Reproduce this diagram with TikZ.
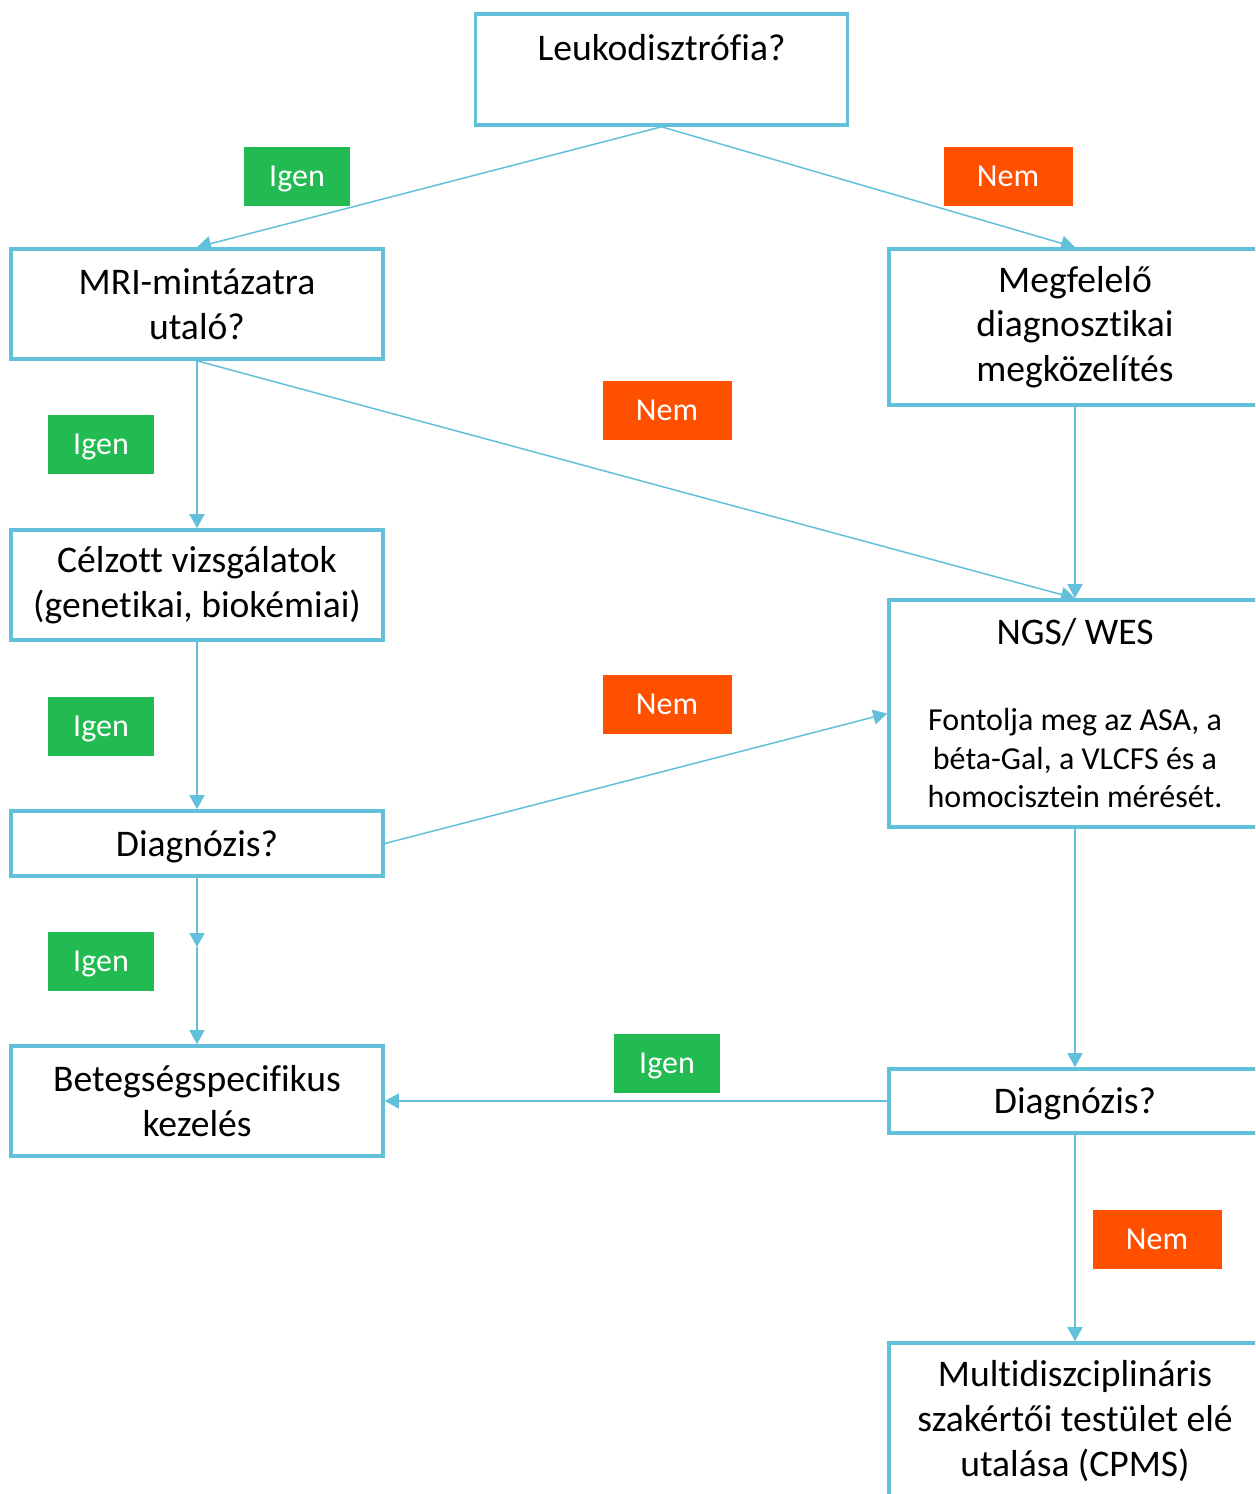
\documentclass[tikz,border=0pt]{standalone}
\usepackage{fontspec}
\setmainfont{Carlito}[Ligatures=NoCommon]
\usetikzlibrary{arrows.meta}
\definecolor{flowblue}{RGB}{98,192,218}
\definecolor{yesgreen}{RGB}{34,187,82}
\definecolor{nored}{RGB}{255,80,0}

\begin{document}
\begin{tikzpicture}[x=0.5pt,y=-0.5pt,->,>={Triangle[length=7pt,width=7.5pt]},
  every edge/.append style={draw=flowblue,line width=0.75pt},
  main node/.style={rectangle,draw=flowblue,line width=1.8pt,minimum width=186pt,
    align=center,inner sep=0pt,font=\fontsize{18.8}{22.3}\selectfont,
    execute at begin node={\rule{0pt}{16pt}},
    execute at end node={\rule[-0.2pt]{0pt}{0pt}}},
  yes node/.style={rectangle,fill=yesgreen,text=white,minimum width=53pt,
    minimum height=29.5pt,inner sep=0pt,font=\fontsize{16}{19}\selectfont,
    text height=13.3pt,text depth=3.2pt},
  no node/.style={yes node,fill=nored,minimum width=64.5pt}]

  \useasboundingbox (0,0) rectangle (1255,1494);
  \clip (0,0) rectangle (1255,1494);

  \node[main node,minimum height=55.5pt] (1) at (661.5,69.5) {Leukodisztrófia?\\\mbox{}};
  \node[main node,minimum height=55pt]   (2) at (197,304)    {MRI-mintázatra\\utaló?};
  \node[main node,minimum height=78pt]   (3) at (1075,327)   {Megfelelő\\diagnosztikai\\megközelítés};
  \node[main node,minimum height=55pt]   (4) at (197,585)    {Célzott vizsgálatok\\(genetikai, biokémiai)};
  \node[main node,minimum height=113.5pt,font=\fontsize{16}{19.3}\selectfont] (5) at (1075,713.5)
    {\fontsize{18.8}{22.3}\selectfont NGS/ WES\\[23.5pt]Fontolja meg az ASA, a\\béta-Gal, a VLCFS és a\\homocisztein mérését.};
  \node[main node,minimum height=32.5pt] (6) at (197,843.5)  {Diagnózis?};
  \node[main node,minimum height=55pt]   (7) at (197,1101)   {Betegségspecifikus\\kezelés};
  \node[main node,minimum height=32pt]   (8) at (1075,1101)  {Diagnózis?};
  \node[main node,minimum height=78pt]   (9) at (1075,1421)  {Multidiszciplináris\\szakértői testület elé\\utalása (CPMS)};

  \coordinate (m) at (197,947);

  % Igen / Nem
  \node[yes node] (y1) at (297,176)    {Igen};
  \node[no node]  (n1) at (1008,176.5) {Nem};
  \node[yes node] (y2) at (101,444.5)  {Igen};
  \node[no node]  (n2) at (667,410.5)  {Nem};
  \node[yes node] (y3) at (101,726)    {Igen};
  \node[no node]  (n3) at (667,704.5)  {Nem};
  \node[yes node] (y4) at (101,961)    {Igen};
  \node[yes node] (y5) at (667,1063)   {Igen};
  \node[no node]  (n4) at (1157,1239.5) {Nem};

  \path
    (1.south) edge (2.north)
    (1.south) edge (3.north)
    (2.south) edge (4.north)
    (2.south) edge (5.north)
    (3.south) edge (5.north)
    (4.south) edge (6.north)
    (6.east)  edge (5.west)
    (6.south) edge (m)
    (m)       edge (7.north)
    (5.south) edge (8.north)
    (8.west)  edge (7.east)
    (8.south) edge (9.north);

\end{tikzpicture}
\end{document}
